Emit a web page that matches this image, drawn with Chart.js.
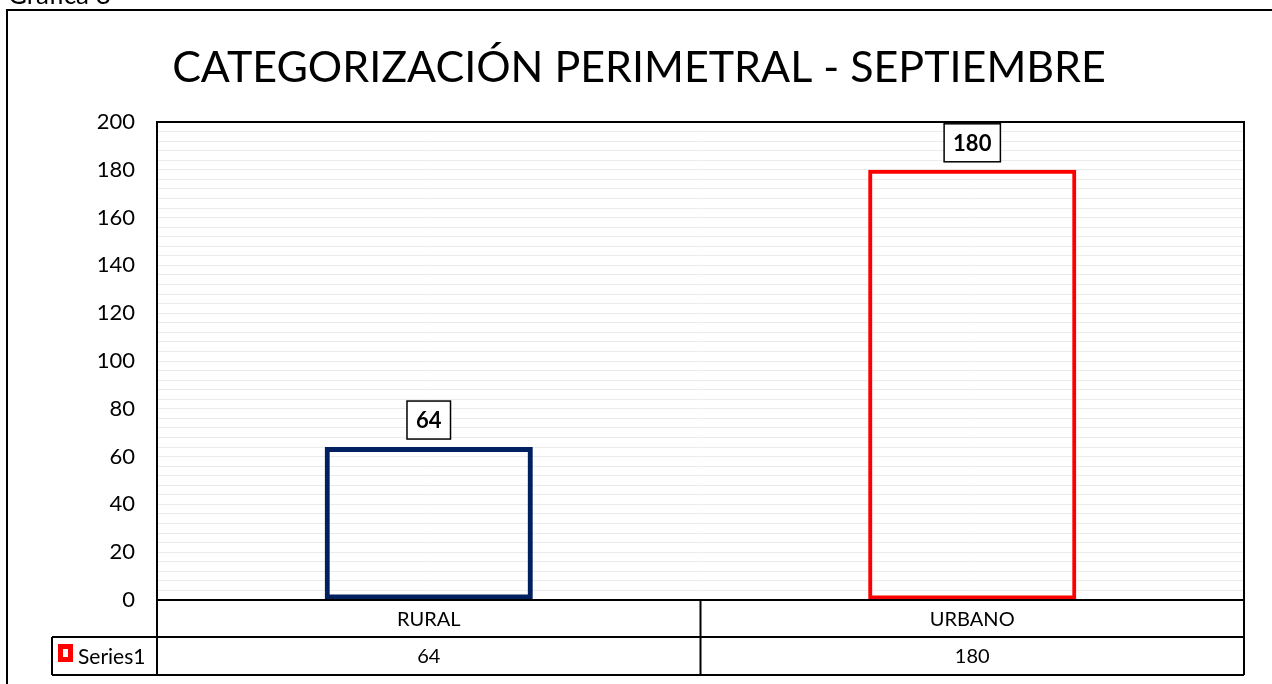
<!DOCTYPE html>
<html>
<head>
<meta charset="utf-8">
<script src="https://cdn.jsdelivr.net/npm/chart.js@4"></script>
<style>
  body { margin: 0; background: #fff; }
  canvas { display: block; }
</style>
</head>
<body>
<canvas id="chart" width="1272" height="684"></canvas>
<script>
const categories = ['RURAL', 'URBANO'];
const seriesName = 'Series1';
const values = [64, 180];
const barColors = ['#002060', '#FF0000'];
const yTickLabels = [0, 20, 40, 60, 80, 100, 120, 140, 160, 180, 200];

const titleText = 'CATEGORIZACIÓN PERIMETRAL - SEPTIEMBRE';
const FONT = 'Lato, "Open Sans", sans-serif';

// frame, title, data table and boxed labels
const excelLook = {
    id: 'excelLook',
    beforeDraw(chart) {
        const ctx = chart.ctx;
        ctx.save();
        ctx.fillStyle = '#fff';
        ctx.fillRect(0, 0, chart.width, chart.height);
        // caption above the frame, mostly cut off
        ctx.fillStyle = '#000';
        ctx.font = '26px ' + FONT;
        ctx.textBaseline = 'alphabetic';
        ctx.textAlign = 'left';
        ctx.fillText('Gráfica 8', 8, 4);
        // outer frame
        ctx.strokeStyle = '#000';
        ctx.lineWidth = 2;
        ctx.beginPath();
        ctx.moveTo(7, chart.height + 5);
        ctx.lineTo(7, 10);
        ctx.lineTo(chart.width + 5, 10);
        ctx.stroke();
        // title fitted to the reference width
        let size = 40;
        ctx.font = size + 'px ' + FONT;
        size = size * 934 / ctx.measureText(titleText).width;
        ctx.font = size + 'px ' + FONT;
        ctx.textAlign = 'center';
        ctx.fillText(titleText, 639, 82);
        ctx.restore();
    },
    afterDraw(chart) {
        const ctx = chart.ctx;
        const area = chart.chartArea;
        const xs = chart.scales.x;
        const row1 = area.bottom + 37;
        const row2 = area.bottom + 75;
        const keyLeft = 52;
        ctx.save();
        ctx.strokeStyle = '#000';
        ctx.lineWidth = 2;
        // plot border
        ctx.strokeRect(area.left, area.top, area.right - area.left, area.bottom - area.top);
        // table grid
        ctx.beginPath();
        ctx.moveTo(area.left, area.bottom); ctx.lineTo(area.left, row2);
        ctx.moveTo(area.right, area.bottom); ctx.lineTo(area.right, row2);
        const mid = (xs.getPixelForValue(0) + xs.getPixelForValue(1)) / 2;
        ctx.moveTo(mid, area.bottom); ctx.lineTo(mid, row2);
        ctx.moveTo(keyLeft, row1); ctx.lineTo(area.right, row1);
        ctx.moveTo(keyLeft, row2); ctx.lineTo(area.right, row2);
        ctx.moveTo(keyLeft, row1); ctx.lineTo(keyLeft, row2);
        ctx.stroke();
        // table text
        ctx.fillStyle = '#000';
        ctx.font = '20px ' + FONT;
        ctx.textAlign = 'center';
        ctx.textBaseline = 'middle';
        categories.forEach((c, i) => {
            const x = xs.getPixelForValue(i);
            ctx.fillText(c, x, (area.bottom + row1) / 2 + 1);
            ctx.fillText(String(values[i]), x, (row1 + row2) / 2 + 1);
        });
        // legend key
        ctx.strokeStyle = '#FF0000';
        ctx.lineWidth = 5;
        ctx.strokeRect(60.5, 646.5, 10, 13);
        ctx.font = '21px ' + FONT;
        ctx.textAlign = 'left';
        ctx.fillText(seriesName, 78, (row1 + row2) / 2 + 1);

        // boxed data labels
        const meta = chart.getDatasetMeta(0);
        ctx.font = 'bold 22px ' + FONT;
        meta.data.forEach((bar, i) => {
            const txt = String(values[i]);
            const w = ctx.measureText(txt).width + 18;
            const h = 38;
            const bottom = bar.y - 8;
            ctx.fillStyle = '#fff';
            ctx.fillRect(bar.x - w / 2, bottom - h, w, h);
            ctx.strokeStyle = '#000';
            ctx.lineWidth = 1.5;
            ctx.strokeRect(bar.x - w / 2, bottom - h, w, h);
            ctx.fillStyle = '#000';
            ctx.textAlign = 'center';
            ctx.fillText(txt, bar.x, bottom - h / 2 + 1);
        });
        ctx.restore();
    }
};

new Chart(document.getElementById('chart'), {
    type: 'bar',
    data: {
        labels: categories,
        datasets: [{
            label: seriesName,
            data: values,
            backgroundColor: 'rgba(255,255,255,0)',
            borderColor: barColors,
            borderWidth: [5, 4],
            borderSkipped: false,
            categoryPercentage: 1,
            barPercentage: 0.383
        }]
    },
    options: {
        responsive: false,
        animation: false,
        layout: { padding: { top: 122, right: 28, left: 0, bottom: 0 } },
        plugins: {
            legend: { display: false },
            title: { display: false },
            tooltip: { enabled: false }
        },
        scales: {
            x: {
                ticks: { display: false },
                grid: { display: false },
                border: { display: false },
                afterFit: s => { s.height = 84; }
            },
            y: {
                min: 0,
                max: 200,
                afterFit: s => { s.width = 157; },
                border: { display: false },
                grid: { color: '#ebebeb', lineWidth: 1, drawTicks: false },
                ticks: {
                    stepSize: 4,
                    autoSkip: false,
                    padding: 22,
                    color: '#000',
                    font: { family: FONT, size: 22 },
                    callback: v => yTickLabels.includes(v) ? v : ''
                }
            }
        }
    },
    plugins: [excelLook]
});
</script>
</body>
</html>
